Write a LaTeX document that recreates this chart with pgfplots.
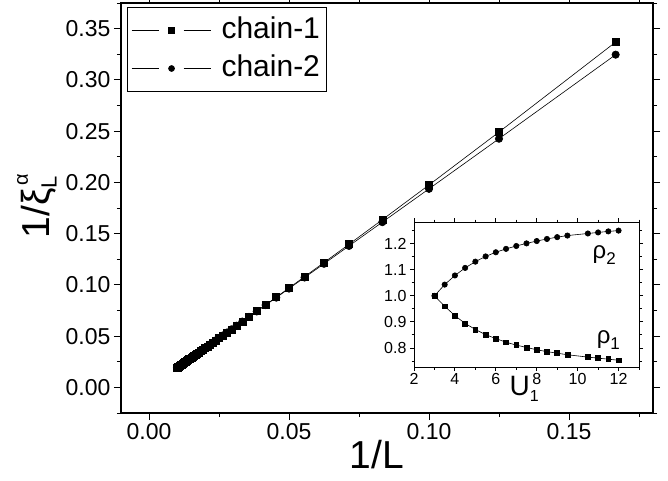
\documentclass[border=0pt]{standalone}
\usepackage{pgfplots}
\pgfplotsset{compat=1.18}
\usepackage{fontspec}
\setmainfont{Liberation Sans}
\usetikzlibrary{calc}

\pgfplotsset{
  lmline/.style={legend image code/.code={
    \draw[solid, line width=0.6pt] (0pt,0pt) -- (27pt,0pt);
    \draw[solid, line width=0.6pt] (52pt,0pt) -- (79pt,0pt);
    \draw[only marks, mark size=3pt] plot coordinates {(40pt,0pt)};
    \path[draw=none, fill=none] (0pt,0pt) -- (88pt,0pt);}}
}

\begin{document}
\begin{tikzpicture}
\begin{axis}[name=main, scale only axis, width=532pt, height=410pt,
  xmin=-0.01, xmax=0.18, ymin=-0.025, ymax=0.375,
  xtick={0,0.05,0.1,0.15}, minor xtick={0.025,0.075,0.125,0.175},
  ytick={0,0.05,0.1,0.15,0.2,0.25,0.3,0.35},
  minor ytick={-0.025,0.025,0.075,0.125,0.175,0.225,0.275,0.325,0.375},
  tick align=outside, major tick length=7pt, minor tick length=4pt,
  every tick/.style={line width=1pt, black},
  axis line style={line width=1.2pt},
  tick label style={font=\fontsize{23}{27}\selectfont},
  /pgf/number format/assume math mode=true,
  xticklabel style={/pgf/number format/.cd, fixed, fixed zerofill, precision=2},
  yticklabel style={/pgf/number format/.cd, fixed, fixed zerofill, precision=2},
  xlabel={1/L},
  xlabel style={font=\fontsize{39}{44}\selectfont, at={(axis description cs:0.481,-0.102)}, anchor=center},
  ylabel={1/ξ\makebox[0pt][l]{\raisebox{-0.35ex}{\fontsize{22}{24}\selectfont L}}\hspace{3pt}\raisebox{1.05ex}{\fontsize{20}{22}\selectfont α}\hspace{4pt}},
  ylabel style={font=\fontsize{39}{44}\selectfont, at={(axis description cs:-0.158,0.505)}, anchor=center},
  legend style={at={(axis description cs:0.011,0.99)}, anchor=north west,
    font=\fontsize{30}{34}\selectfont, draw=black, line width=0.8pt,
    inner xsep=4pt, inner ysep=7pt, row sep=6pt,
    nodes={inner sep=2pt, text height=22pt, text depth=6pt}},
  legend cell align=left,
]
\addplot[black, line width=0.6pt, mark=square*, mark size=3.5pt, mark options={solid}, lmline] table {
x y
0.166667 0.3369
0.125 0.2491
0.1 0.1975
0.083333 0.1636
0.071429 0.1396
0.0625 0.1218
0.055556 0.1080
0.05 0.0970
0.045455 0.0880
0.041667 0.0806
0.038462 0.0743
0.035714 0.0689
0.033333 0.0643
0.03125 0.0602
0.029412 0.0566
0.027778 0.0535
0.026316 0.0506
0.025 0.0481
0.02381 0.0458
0.022727 0.0437
0.021739 0.0417
0.020833 0.0400
0.02 0.0384
0.019231 0.0369
0.018519 0.0355
0.017857 0.0342
0.017241 0.0331
0.016667 0.0319
0.016129 0.0309
0.015625 0.0299
0.015152 0.0290
0.014706 0.0282
0.014286 0.0274
0.013889 0.0266
0.013514 0.0259
0.013158 0.0252
0.012821 0.0245
0.0125 0.0239
0.012195 0.0233
0.011905 0.0228
0.011628 0.0222
0.011364 0.0217
0.011111 0.0213
0.01087 0.0208
0.010638 0.0203
0.010417 0.0199
0.010204 0.0195
0.01 0.0191
};
\addlegendentry{chain-1}
\addplot[black, line width=0.6pt, mark=*, mark size=3.7pt, mark options={solid}, lmline] table {
x y
0.166667 0.3246
0.125 0.2426
0.1 0.1937
0.083333 0.1612
0.071429 0.1380
0.0625 0.1206
0.055556 0.1072
0.05 0.0964
0.045455 0.0876
0.041667 0.0803
0.038462 0.0741
0.035714 0.0688
0.033333 0.0642
0.03125 0.0602
0.029412 0.0566
0.027778 0.0535
0.026316 0.0506
0.025 0.0481
0.02381 0.0458
0.022727 0.0437
0.021739 0.0418
0.020833 0.0401
0.02 0.0385
0.019231 0.0370
0.018519 0.0356
0.017857 0.0343
0.017241 0.0332
0.016667 0.0320
0.016129 0.0310
0.015625 0.0300
0.015152 0.0291
0.014706 0.0283
0.014286 0.0275
0.013889 0.0267
0.013514 0.0260
0.013158 0.0253
0.012821 0.0246
0.0125 0.0240
0.012195 0.0234
0.011905 0.0229
0.011628 0.0223
0.011364 0.0218
0.011111 0.0214
0.01087 0.0209
0.010638 0.0204
0.010417 0.0200
0.010204 0.0196
0.01 0.0192
};
\addlegendentry{chain-2}
\end{axis}

\begin{axis}[at={($(main.south west)+(293pt,46pt)$)}, anchor=south west,
  scale only axis, width=225pt, height=145pt,
  xmin=2, xmax=13, ymin=0.727, ymax=1.283,
  xtick={2,4,6,8,10,12}, minor xtick={3,5,7,9,11,13},
  ytick={0.8,0.9,1.0,1.1,1.2}, minor ytick={0.75,0.85,0.95,1.05,1.15,1.25},
  tick align=outside, major tick length=4pt, minor tick length=2.5pt,
  every tick/.style={line width=0.9pt, black},
  axis line style={line width=1pt},
  tick label style={font=\fontsize{16}{19}\selectfont},
  xticklabel style={yshift=1pt},
  /pgf/number format/assume math mode=true,
  yticklabel style={/pgf/number format/.cd, fixed, fixed zerofill, precision=1},
  xlabel={U\raisebox{-0.45ex}{\fontsize{16}{18}\selectfont 1}},
  xlabel style={font=\fontsize{28}{32}\selectfont, at={(axis description cs:0.49,-0.06)}, anchor=north, inner sep=0pt},
]
\addplot[black, line width=0.6pt, mark=*, mark size=2.7pt, mark options={solid}] table {
x y
3 1.000
3.5 1.043
4 1.078
4.5 1.107
5 1.131
5.5 1.151
6 1.167
6.5 1.180
7 1.191
7.5 1.201
8 1.210
8.5 1.218
9 1.225
9.5 1.231
10.5 1.239
11 1.243
11.5 1.247
12 1.250
};
\addplot[black, line width=0.6pt, mark=square*, mark size=2.4pt, mark options={solid}] table {
x y
3 1.000
3.5 0.960
4 0.924
4.5 0.894
5 0.871
5.5 0.851
6 0.836
6.5 0.822
7 0.811
7.5 0.802
8 0.793
8.5 0.786
9 0.780
9.5 0.774
10.5 0.765
11 0.761
11.5 0.757
12 0.753
};
\node[font=\fontsize{24}{28}\selectfont] at (axis cs:11.3,1.155) {ρ\raisebox{-0.45ex}{\fontsize{17}{19}\selectfont 2}};
\node[font=\fontsize{24}{28}\selectfont] at (axis cs:11.5,0.83) {ρ\raisebox{-0.45ex}{\fontsize{17}{19}\selectfont 1}};
\end{axis}

\pgfresetboundingbox
\path[use as bounding box] ($(main.south west)+(-121pt,-67pt)$) rectangle ++(668pt,480pt);
\end{tikzpicture}
\end{document}
